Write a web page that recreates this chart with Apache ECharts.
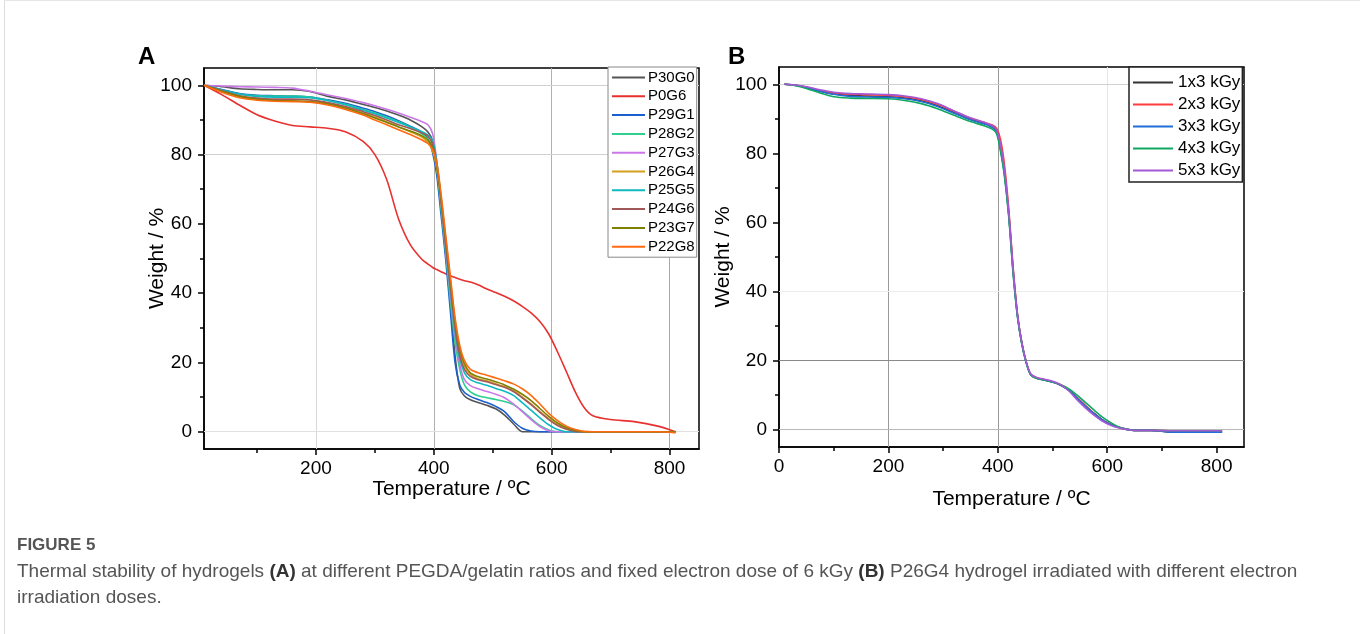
<!DOCTYPE html>
<html>
<head>
<meta charset="utf-8">
<script src="https://cdn.jsdelivr.net/npm/echarts@6/dist/echarts.min.js"></script>
<style>
html,body{margin:0;padding:0;background:#fff;}
#chart{width:1360px;height:634px;}
</style>
</head>
<body>
<div id="chart"></div>
<script>
// ---------- Panel A data ----------
const tempA = [10,40,70,100,130,160,190,220,250,280,300,320,340,360,380,390,398,405,412,420,428,436,444,452,462,475,490,505,520,535,550,565,580,595,610,625,640,655,670,700,740,780,810];
const P30G0 = [100,99.6,99,98.8,98.7,98.7,98.2,96.8,95.8,94.5,93.6,92.6,91.4,90,88,86.5,84,77,66,53,38,22,12.5,10.3,9.2,8.4,7.6,6.6,4.8,2.3,0,0,0,0,0,0,0,0,0,0,0,0,0];
const P0G6  = [100,97.3,94.3,91.5,89.7,88.4,88,87.6,86.6,83.8,80,72.8,61.5,54,49.7,48.4,47.4,46.8,46.2,45.6,45,44.5,44,43.6,43.2,42.4,41.2,40.2,39.1,37.8,36.2,34.3,31.8,28.2,23,17.3,11.5,7,4.6,3.5,2.9,1.6,0];
const P29G1 = [100,98.8,97.6,97.1,97,96.9,96.6,95.8,94.8,93.4,92.4,91.2,89.8,88.2,86.4,84.5,80.5,74,63,50,35,20,13.5,11.3,10.2,9.3,8.4,7.3,5.8,3,1,0.2,0,0,0,0,0,0,0,0,0,0,0];
const P28G2 = [100,98.6,97.4,97,96.9,96.9,96.6,95.6,94.5,93,92,90.8,89.5,88,86,84.5,82,76,65,52,38,26,18,13.5,11.5,10.4,9.8,9.3,8.7,7.8,6,3.8,1.8,0.5,0,0,0,0,0,0,0,0,0];
const P27G3 = [100,99.8,99.6,99.5,99.4,99.2,98.3,97.2,96.2,95,94.1,93.1,92,90.8,89.5,88.6,86,78,67,53,40,28,19.5,15,13.3,12.4,11.6,10.8,9.8,8,5.8,3.5,1.5,0.3,0,0,0,0,0,0,0,0,0];
const P26G4 = [100,98.3,96.8,96,95.6,95.5,95.3,94.8,93.6,92,90.8,89.5,88,86.6,85,83.5,81,76,67,55,43,31,23,19,16.5,15.3,14.7,13.8,13,11.8,10,8,5.8,3.8,2,0.9,0.2,0,0,0,0,0,-0.2];
const P25G5 = [100,98.7,97.5,96.8,96.6,96.6,96.4,95.6,94.4,92.8,91.8,90.6,89.3,88,86.6,85.6,84,78,68,54,41,29,21,17,15,14.1,13.4,12.5,11.7,10.5,8.4,6.2,4,2,0.6,0,0,0,0,0,0,0,0];
const P24G6 = [100,98.5,97,96.3,96,96,95.8,95,93.9,92.4,91.3,90,88.6,87.5,86.2,85.3,83,77,67,54,42,30,22,18,16,15,14.4,13.6,12.8,11.6,9.8,7.8,5.6,3.5,1.8,0.7,0.1,0,0,0,0,0,0];
const P23G7 = [100,98.3,96.8,96,95.6,95.5,95.3,94.6,93.4,91.8,90.6,89.3,88,86.8,85.4,84.2,82,77,68,56,44,32,24,19.6,17,15.9,15.2,14.4,13.5,12.3,10.8,9,6.7,4.4,2.5,1.2,0.4,0,0,0,0,0,0];
const P22G8 = [100,98,96.4,95.7,95.4,95.3,95.1,94.3,93,91.4,90,88.6,87.2,85.8,84.2,83.2,81.5,77.5,69,57,45,33,25,20.5,18,17,16.3,15.5,14.7,13.8,12.4,10.5,8,5.3,3.2,1.6,0.6,0.1,0,0,0,0,-0.3];
const namesA = ['P30G0','P0G6','P29G1','P28G2','P27G3','P26G4','P25G5','P24G6','P23G7','P22G8'];
const valuesA = [P30G0,P0G6,P29G1,P28G2,P27G3,P26G4,P25G5,P24G6,P23G7,P22G8];
const colorsA = ['#555555','#e8312f','#1a5fd0','#2ecf8f','#cc77e8','#d4a020','#10b8c0','#a05858','#7f8000','#ff6a10'];

// ---------- Panel B data ----------
const tempB = [10,30,50,75,100,130,160,200,230,260,290,320,350,375,390,398,405,412,420,428,436,444,452,460,470,485,500,515,530,545,560,575,590,605,620,635,650,680,720,760,800,810];
const dose1 = [100,99.7,99.1,98.0,97.2,96.8,96.6,96.4,96.0,95.2,93.8,91.8,89.9,88.7,87.7,86.3,81.5,74.5,62.5,46,33,25,19.5,16,15,14.4,13.8,12.9,11.4,9.2,7,4.9,3,1.7,0.8,0.2,-0.2,-0.2,-0.7,-0.7,-0.7,-0.7];
const dose2 = [100,99.7,99.2,98.2,97.5,97.1,97,96.8,96.4,95.6,94.2,92.2,90.2,89,88.2,87.2,84,77,64,47,33.5,25.2,19.6,16.1,15.1,14.5,13.9,13,11.6,9.3,7,4.8,2.9,1.6,0.7,0.1,-0.2,-0.2,-0.3,-0.3,-0.3,-0.3];
const dose3 = [100,99.7,99.1,98.0,97.1,96.5,96.3,96.2,95.8,95.0,93.6,91.6,89.7,88.5,87.5,86,81,74,62,45.5,32.8,24.8,19.4,16,15,14.4,13.8,12.9,11.5,9.1,6.8,4.7,2.9,1.6,0.7,0.1,-0.2,-0.2,-0.7,-0.7,-0.7,-0.7];
const dose4 = [100,99.6,98.8,97.5,96.4,96,95.9,95.8,95.3,94.4,92.9,91,89.2,88,87,85.6,80.5,73.5,61.5,45,32.5,24.6,19.3,15.9,14.9,14.4,13.8,13,11.8,10,7.9,5.8,3.8,2.2,0.9,0.2,-0.2,-0.2,-0.3,-0.3,-0.3,-0.3];
const dose5 = [100,99.8,99.3,98.4,97.7,97.3,97.2,97,96.6,95.8,94.4,92.3,90.3,89,88,86.7,82.5,75.5,63,46.5,33.2,25,19.5,16.2,15.2,14.6,14,13,11.2,8.6,6.3,4.3,2.6,1.4,0.6,0.1,-0.2,-0.2,-0.3,-0.3,-0.3,-0.3];
const namesB = ['1x3 kGy','2x3 kGy','3x3 kGy','4x3 kGy','5x3 kGy'];
const valuesB = [dose1,dose2,dose3,dose4,dose5];
const colorsB = ['#333333','#ff3b3b','#1f6fd8','#10a860','#a458d8'];

// ---------- Ticks ----------
const majorXA = [200,400,600,800];
const minorXA = [100,300,500,700];
const majorXB = [0,200,400,600,800];
const minorXB = [100,300,500,700];
const majorY = [0,20,40,60,80,100];
const minorY = [10,30,50,70,90];

const FONT = 'Arial, "Liberation Sans", sans-serif';
const chart = echarts.init(document.getElementById('chart'), null, {renderer:'canvas'});

function xAx(grid, min, ticks, labels, len, show){
  return {type:'value', gridIndex:grid, min:min, max:850, position:'bottom',
    axisLine:{show:show, onZero:false, lineStyle:{color:'#000', width:1.5}},
    axisTick:{show:true, inside:false, length:len, customValues:ticks, lineStyle:{color:'#000', width:1.5}},
    axisLabel:{show:labels, customValues:ticks, margin:10, color:'#000', fontSize:19, fontFamily:FONT},
    splitLine:{show:false}};
}
function yAx(grid, ticks, labels, len, show){
  return {type:'value', gridIndex:grid, min:-5, max:105, position:'left',
    axisLine:{show:show, onZero:false, lineStyle:{color:'#000', width:1.5}},
    axisTick:{show:true, inside:false, length:len, customValues:ticks, lineStyle:{color:'#000', width:1.5}},
    axisLabel:{show:labels, customValues:ticks, margin:12, color:'#000', fontSize:19, fontFamily:FONT},
    splitLine:{show:false}};
}
const titleStyle = {fontSize:21, fontFamily:FONT, color:'#000'};
const xAxes = [
  Object.assign(xAx(0,10,majorXA,true,6,true),{name:'Temperature / \u00baC', nameLocation:'middle', nameGap:30, nameMoveOverlap:false, nameTextStyle:titleStyle}),
  xAx(0,10,minorXA,false,4,false),
  Object.assign(xAx(1,0,majorXB,true,6,true),{name:'Temperature / \u00baC', nameLocation:'middle', nameGap:42, nameMoveOverlap:false, nameTextStyle:titleStyle}),
  xAx(1,0,minorXB,false,4,false)
];
const yAxes = [
  Object.assign(yAx(0,majorY,true,6,true),{name:'Weight / %', nameLocation:'middle', nameGap:36, nameMoveOverlap:false, nameTextStyle:titleStyle}),
  yAx(0,minorY,false,4,false),
  Object.assign(yAx(1,majorY,true,6,true),{name:'Weight / %', nameLocation:'middle', nameGap:45, nameMoveOverlap:false, nameTextStyle:titleStyle}),
  yAx(1,minorY,false,4,false)
];

function gl(axis, v, c){ const o = {lineStyle:{color:c, width:1, type:'solid'}}; o[axis]=v; return o; }

const series = [];
series.push({type:'line', name:'gridA', xAxisIndex:0, yAxisIndex:0, data:[], z:1, silent:true,
  markLine:{silent:true, z:1, symbol:['none','none'], label:{show:false}, animation:false,
    data:[gl('xAxis',200,'#d8d8d8'),gl('xAxis',400,'#b0b0b0'),gl('xAxis',600,'#b0b0b0'),gl('xAxis',800,'#a8a8a8'),
          gl('yAxis',100,'#d0d0d0'),gl('yAxis',80,'#d0d0d0'),gl('yAxis',0,'#e0e0e0')]}});
series.push({type:'line', name:'gridB', xAxisIndex:2, yAxisIndex:2, data:[], z:1, silent:true,
  markLine:{silent:true, z:1, symbol:['none','none'], label:{show:false}, animation:false,
    data:[gl('xAxis',200,'#999999'),gl('xAxis',400,'#999999'),gl('xAxis',600,'#e6e6e6'),
          gl('yAxis',100,'#d0d0d0'),gl('yAxis',40,'#ececec'),gl('yAxis',20,'#8a8a8a'),gl('yAxis',0,'#b8b8b8')]}});

namesA.forEach((n,i)=>{
  series.push({type:'line', name:n, xAxisIndex:0, yAxisIndex:0, z:2, symbol:'none', smooth:0.3,
    lineStyle:{color:colorsA[i], width:1.6}, itemStyle:{color:colorsA[i]},
    data: tempA.map((t,k)=>[t, valuesA[i][k]])});
});
namesB.forEach((n,i)=>{
  series.push({type:'line', name:n, xAxisIndex:2, yAxisIndex:2, z:2, symbol:'none', smooth:0.3,
    lineStyle:{color:colorsB[i], width:1.6}, itemStyle:{color:colorsB[i]},
    data: tempB.map((t,k)=>[t, valuesB[i][k]])});
});

const CAPFONT = '"Liberation Sans", Arial, sans-serif';
const captionStyle = {fill:'#555', fontFamily:CAPFONT, fontSize:19};

chart.setOption({
  animation:false,
  backgroundColor:'#fff',
  grid:[
    {left:204, top:68, width:495, height:381, show:true, borderColor:'#000', borderWidth:1.5, backgroundColor:'transparent'},
    {left:779, top:67, width:465, height:380, show:true, borderColor:'#000', borderWidth:1.5, backgroundColor:'transparent'}
  ],
  xAxis:xAxes,
  yAxis:yAxes,
  legend:[
    {data:namesA, orient:'vertical', left:608, top:67, z:10, itemWidth:33, itemHeight:14, itemGap:3.8,
     padding:[3,2,3,3], borderColor:'#888', borderWidth:1, backgroundColor:'#fff', itemStyle:{opacity:0},
     textStyle:{fontSize:15, fontFamily:FONT, color:'#000', padding:[0,0,0,-2]}, selectedMode:false},
    {data:namesB, orient:'vertical', left:1129, top:67, z:10, itemWidth:40, itemHeight:15, itemGap:5,
     padding:[7,2,3,3], borderColor:'#222', borderWidth:1.5, backgroundColor:'#fff', itemStyle:{opacity:0},
     textStyle:{fontSize:17, fontFamily:FONT, color:'#000'}, selectedMode:false}
  ],
  title:[
    {text:'A', left:138, top:45, padding:0, textStyle:{fontSize:24, fontWeight:'bold', fontFamily:FONT, color:'#000'}},
    {text:'B', left:728, top:45, padding:0, textStyle:{fontSize:24, fontWeight:'bold', fontFamily:FONT, color:'#000'}}
  ],
  graphic:[
    {type:'line', shape:{x1:4.5,y1:0,x2:4.5,y2:634}, style:{stroke:'#dddddd', lineWidth:1}},
    {type:'line', shape:{x1:4,y1:0.5,x2:1360,y2:0.5}, style:{stroke:'#e6e6e6', lineWidth:1}},
    {type:'text', left:17, top:537, style:{text:'FIGURE 5', fill:'#555', fontFamily:CAPFONT, fontSize:17, fontWeight:'bold'}},
    {type:'text', left:17, top:562, style:Object.assign({}, captionStyle, {
      text:'Thermal stability of hydrogels {b|(A)} at different PEGDA/gelatin ratios and fixed electron dose of 6 kGy {b|(B)} P26G4 hydrogel irradiated with different electron',
      rich:{b:{fontWeight:'bold', fill:'#333', fontFamily:CAPFONT, fontSize:19}}})},
    {type:'text', left:17, top:588, style:Object.assign({}, captionStyle, {text:'irradiation doses.'})}
  ],
  series:series
});
</script>
</body>
</html>
